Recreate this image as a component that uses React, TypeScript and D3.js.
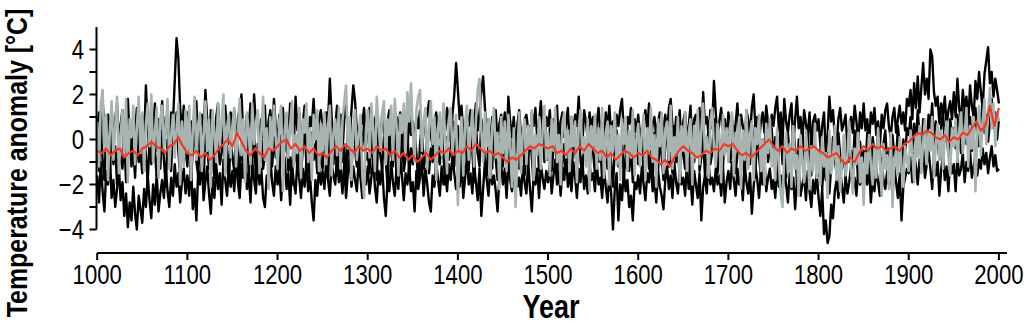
import { useMemo } from "react";
import * as d3 from "d3";

// reconstructions every 2 years (1000..2000)
const upperBlack = [
  0.4, 1.2, -0.3, 1.7, 0.6, -0.8, 1.1, 0.2, 1.5, -0.5, 0.9, 1.6, -0.2, 0.7, 1.3, -0.9, 0.5, 1.8, 0.1, -0.6, 1.0, 0.3, 1.4, -0.4, 0.8,
  1.1, -0.3, 2.4, 0.6, -0.7, 1.3, 0.2, 1.6, -0.5, 0.9, 0.4, 1.7, -0.2, 1.0, 0.5, -0.8, 1.2, 0.7, 2.6, 4.5, 3.6, 1.4, 0.3, 1.5, -0.4,
  1.2, -0.6, 0.8, 0.1, 1.4, 1.7, -0.3, 0.6, 1.1, 0.2, 2.2, 0.9, -0.5, 1.3, 0.4, -0.9, 1.0, 1.6, 0.2, -0.4, 0.8, 1.5, 0.3, -0.2, 1.2,
  0.6, 1.3, -0.5, 0.9, 1.4, 2.0, 0.3, -0.7, 1.1, 0.5, 1.6, -0.1, 2.0, 0.7, 1.2, -0.4, 0.9, 0.1, 1.5, -0.6, 0.8, 1.3, 0.2, 1.8, 0.6,
  -0.2, 1.1, 0.5, 1.4, -0.5, 0.8, 0.2, 1.6, 0.9, -0.3, 1.9, 0.4, 1.2, -0.6, 0.7, 1.5, 0.1, -0.4, 1.0, 0.6, 1.8, 0.3, -0.7, 0.9, 1.3,
  0.5, -0.2, 1.2, 0.8, 2.7, 1.0, -0.4, 0.6, 1.5, 0.2, 1.1, -0.6, 0.9, 1.6, 0.3, -0.1, 1.3, 2.4, 1.7, 0.4, -0.5, 1.0, 0.7, 1.4, -0.3,
  0.6, 1.4, 0.1, -0.6, 0.9, 1.2, 0.3, -0.2, 1.1, 0.5, -0.8, 0.8, 1.3, 0.0, 0.7, -0.4, 1.0, 0.4, 1.2, -0.3, 0.6, 0.9, -0.5, 1.1, 0.2,
  0.8, -0.2, 1.0, 0.5, 1.3, -0.6, 0.4, 0.9, 1.1, 1.7, 0.2, -0.3, 0.8, 1.2, 0.1, 0.6, -0.5, 1.0, 0.4, 1.4, 0.7, -0.1, 1.1, 2.0, 3.4,
  2.2, 0.9, 1.5, 0.3, -0.4, 1.1, 0.6, 1.3, -0.2, 0.8, 1.6, 0.4, 1.2, 2.1, 2.8, 1.4, 0.2, 0.9, -0.5, 1.0, 0.5, 1.3, -0.3, 0.7, 1.1,
  0.3, 1.2, -0.4, 1.9, 0.8, 0.1, 1.0, -0.6, 0.7, 1.3, 0.2, -0.2, 0.9, 1.1, 0.4, -0.5, 1.2, 0.6, 1.4, 0.0, 0.8, 1.7, 0.5, -0.3, 1.0,
  0.6, 1.3, -0.2, 0.9, 0.4, 1.5, -0.5, 0.8, 1.2, 0.1, 0.7, 1.4, -0.4, 1.0, 0.3, 1.1, 0.6, 1.9, 0.2, -0.3, 1.3, 0.8, 0.0, 1.2, 0.5,
  1.0, -0.4, 0.7, 1.4, 0.2, 0.9, -0.6, 1.2, 0.5, 1.5, 0.1, 0.8, -0.2, 1.1, 0.6, 1.3, 1.8, 0.4, -0.5, 1.0, 0.7, 1.4, -0.1, 0.9, 0.3,
  1.1, 0.2, -0.5, 0.9, 1.3, 0.4, 1.6, -0.3, 0.7, 1.0, 0.1, 0.8, 1.2, -0.6, 0.5, 1.1, 0.3, 1.4, 1.8, 0.6, -0.2, 1.0, 0.4, 1.3, -0.4,
  0.8, 1.2, 0.0, 0.6, 1.5, -0.3, 0.9, 1.1, 0.3, 1.4, -0.5, 2.1, 0.7, 1.0, 0.2, 1.3, 0.5, 2.6, 1.2, -0.2, 0.8, 1.4, 0.4, 0.9, -0.1,
  1.2, 0.5, 1.0, -0.4, 0.7, 1.6, 0.2, 1.1, 0.6, -0.3, 1.3, 0.9, 0.1, 1.4, 2.0, 0.5, 1.0, -0.2, 0.8, 1.2, 0.3, 1.5, 0.7, -0.1, 1.1,
  0.6, 1.4, 1.9, 0.4, 1.2, -0.2, 1.8, 0.8, 0.3, 1.1, 1.6, -0.3, 0.9, 1.9, 0.5, 1.0, -0.1, 1.3, 0.7, 0.2, 1.2, -0.4, 0.8, 1.1, 0.4,
  0.9, -0.3, 0.6, 1.2, -0.6, 0.2, 1.9, 0.8, 1.3, 0.1, -0.2, 0.9, 1.4, 0.4, 0.7, 1.1, -0.4, 0.6, 1.0, 0.3, 1.5, 0.8, -0.1, 1.2, 0.5,
  1.6, 0.4, 0.9, -0.2, 1.2, 0.7, 1.4, 0.2, 0.8, -0.3, 1.1, 0.5, 1.3, 1.6, 0.6, 0.1, 1.0, 1.4, 0.3, 0.9, 1.5, 0.7, 1.2, 0.4, 1.8,
  1.5, 2.2, 0.9, 2.5, 1.4, 2.8, 1.2, 2.3, 3.4, 2.0, 2.7, 1.8, 4.0, 3.7, 2.1, 1.5, 1.9, 0.7, 1.6, 1.1, 1.9, 0.6, 1.3, 1.7, 0.9,
  2.1, 1.0, 2.7, 1.4, 0.8, 2.2, 1.3, 1.9, 0.7, 2.4, 1.5, 1.0, 2.6, 1.8, 3.0, 2.1, 1.4, 2.9, 3.5, 4.1, 2.5, 3.0, 1.9, 2.7, 2.2,
  1.6,
];

const midBlack = [
  -0.2, -1.4, 0.6, -0.9, -1.8, 0.3, -0.6, -1.5, 0.9, -1.1, -0.3, -2.0, 0.4, -0.8, -1.3, 0.1, -1.9, -0.5, 0.7, -1.2, -0.4, -1.7, 0.2, -1.0, -0.6,
  -1.5, 0.5, -0.7, -1.9, -0.1, -1.1, 0.8, -0.6, -1.6, -0.2, -1.3, 0.4, -0.9, -2.1, 0.0, -0.8, -1.4, 0.6, -0.3, 1.2, -0.5, -1.7, 0.3, -1.0, -0.4,
  -1.2, 0.2, -1.8, -0.5, 0.7, -1.0, -1.6, 0.1, -0.7, -2.0, 0.5, -0.4, -1.3, 0.3, -0.9, -1.7, 0.6, -0.2, -1.1, -0.6, 0.9, -1.5, -0.3, -1.9, 0.0,
  -0.8, -1.4, 0.4, -0.6, -1.9, 0.2, -1.1, -0.3, 0.8, -1.5, -0.5, -1.0, 0.5, -1.8, -0.2, -0.9, 0.3, -1.3, -0.7, 0.6, -1.6, -0.4, -1.2, 0.1, -0.8,
  -0.5, -1.7, 0.2, -1.0, -0.3, 0.7, -1.4, -0.8, -2.0, 0.4, -0.6, -1.2, 0.1, -1.6, -0.4, 0.6, -1.1, -0.7, -1.9, 0.3, -0.9, -0.2, -1.5, 0.5, -1.0,
  -1.3, 0.1, -0.7, -1.8, 0.6, -0.4, -1.1, 0.2, -1.6, -0.6, 0.8, -1.0, -0.3, -1.9, 0.3, -0.8, -1.4, 0.5, -0.5, -1.2, 0.0, -1.7, -0.2, 0.7, -0.9,
  -0.6, -1.5, 0.3, -1.0, -0.2, -1.8, 0.5, -0.7, -1.3, 0.1, -0.9, -2.1, 0.4, -0.5, -1.2, 0.6, -1.6, -0.3, -1.0, 0.2, -1.4, -0.8, 0.5, -1.7, -0.4,
  -1.1, 0.3, -0.6, -1.9, -0.2, 0.6, -1.3, -0.8, 0.2, -1.5, -0.4, -1.0, 0.7, -1.7, -0.3, -1.1, 0.4, -0.7, -2.0, 0.1, -0.9, -0.5, 0.8, -1.2, 0.4,
  0.6, -1.0, -0.3, -1.7, 0.4, -0.8, -1.4, 0.2, -0.5, -1.9, 0.7, -0.6, -1.2, 0.9, 0.3, -1.0, -1.6, 0.1, -0.4, -1.3, 0.5, -0.9, -1.8, 0.0, -0.7,
  -1.2, 0.4, -0.6, -1.5, 0.1, -1.0, -1.9, -0.3, 0.5, -1.3, -0.7, 0.2, -1.6, -0.4, -1.1, 0.6, -0.8, -2.0, -0.2, 0.3, -1.4, -0.6, 0.7, -1.0, -0.3,
  -0.9, 0.5, -1.4, -0.4, 0.2, -1.7, -0.6, 0.8, -1.1, -0.2, -1.5, 0.3, -0.8, -1.9, 0.1, -0.5, -1.2, 0.6, -0.9, -1.6, 0.0, -0.7, 0.4, -1.3, -0.4,
  -0.6, -1.5, 0.3, -1.0, -0.3, -1.8, 0.5, -0.7, -1.3, 0.2, -1.0, -2.1, -0.4, 0.4, -1.2, -0.6, 0.1, -1.7, -0.8, 0.6, -1.4, -0.2, -1.9, -0.5, 0.2,
  -1.1, -0.3, 0.5, -1.6, -0.8, 0.1, -1.3, -0.5, -2.0, 0.3, -0.9, -1.4, 0.0, -0.7, -1.8, -0.2, 0.4, -1.2, -0.6, -1.5, 0.6, -1.0, -0.4, -1.7, 0.2,
  -0.7, -1.3, 0.4, -0.5, -1.8, 0.2, -1.0, -0.3, 0.7, -1.4, -0.8, 0.1, -1.6, -0.4, 0.5, -1.1, -0.6, 0.9, -0.9, -1.5, 0.0, -0.7, -1.2, 0.3, -0.5,
  0.2, -1.0, -0.4, 0.6, -1.5, -0.7, 0.1, -1.2, -0.3, -1.8, 0.4, -0.6, -1.1, 0.7, -0.2, -1.4, 0.3, -0.8, -1.6, 0.0, -0.5, 0.8, -1.0, -0.3, 0.5,
  -0.9, 0.1, -1.4, -0.5, 0.6, -1.1, -0.2, -1.7, 0.3, -0.7, -1.2, 0.5, -0.4, -1.9, 0.0, -0.8, 0.7, -1.3, -0.6, 0.2, -1.0, -1.6, 0.4, -0.3, -1.1,
  -1.6, -0.4, -2.2, -1.0, -1.8, -0.6, -2.4, -1.2, 0.1, -0.9, -1.5, 0.3, -0.7, -1.3, -0.2, -1.8, 0.2, -1.0, -0.5, -1.4, 0.4, -0.8, -1.7, -0.1, -1.1,
  -0.5, -1.3, 0.3, -0.9, -1.6, 0.1, -0.6, -1.2, 0.5, -0.8, -1.5, -0.2, 0.4, -1.1, -0.4, -1.7, 0.2, -0.7, -1.0, 0.6, -0.3, -1.4, 0.0, -0.8, 0.5,
  0.2, 1.0, -0.5, 0.7, -0.2, 1.3, 0.1, -0.8, 0.9, 0.3, -0.4, 1.1, 0.5, 1.6, -0.3, 0.8, 0.0, -0.9, 0.6, 1.2, -0.1, 0.4, -0.7, 0.9, 0.2,
  0.5, -0.4, 1.1, 0.2, -0.6, 0.8, 1.3, -0.2, 0.6, 1.0, -0.5, 0.4, 1.4, 0.1, -0.3, 0.9, 1.6, 0.3, 1.1, -0.1, 0.7, 1.8, 0.5, 1.2, 0.0,
  0.9,
];

const lowerBlack = [
  -1.6, -2.8, -1.0, -2.3, -3.2, -1.4, -2.0, -0.6, -2.6, -1.8, -3.0, -2.2, -1.2, -2.7, -1.9, -3.4, -2.4, -3.9, -2.8, -3.6, -2.1, -3.3, -4.0, -2.5, -3.1,
  -3.7, -2.2, -3.0, -1.6, -2.7, -3.5, -2.0, -2.9, -1.5, -3.2, -2.4, -1.8, -2.6, -1.2, -2.3, -3.0, -1.7, -2.5, -1.1, -2.1, -1.5, -2.8, -1.9, -1.3, -2.4,
  -1.6, -2.5, -1.0, -3.1, -2.2, -3.6, -1.4, -2.0, -0.8, -2.7, -1.9, -1.2, -2.4, -3.3, -1.7, -2.6, -1.1, -2.2, -1.5, -2.9, -0.9, -1.8, -2.5, -1.3, -2.1,
  -1.4, -2.3, -0.7, -1.9, -2.6, -1.1, -1.7, -0.5, -2.2, -1.5, -2.8, -1.0, -1.8, -2.4, -0.9, -2.0, -1.3, -2.6, -3.0, -1.6, -2.1, -0.8, -1.9, -2.5, -1.2,
  -2.0, -1.3, -2.7, -1.6, -0.8, -2.2, -1.5, -2.9, -1.1, -1.9, -2.4, -0.9, -1.7, -2.6, -1.3, -2.1, -1.0, -2.3, -1.6, -2.8, -3.6, -1.8, -2.5, -1.2, -2.0,
  -1.4, -2.2, -0.9, -1.8, -2.5, -1.1, -1.6, -2.0, -0.7, -1.9, -1.3, -2.4, -1.0, -2.6, -1.5, -0.8, -2.1, -1.2, -1.8, -2.3, -0.9, -1.7, -2.6, -1.4, -2.0,
  -1.2, -2.4, -1.7, -0.9, -2.1, -2.8, -1.4, -2.0, -1.1, -2.6, -3.4, -1.8, -2.3, -1.0, -1.9, -2.5, -1.3, -2.2, -0.8, -1.6, -2.7, -1.5, -2.0, -1.2, -2.3,
  -1.9, -3.2, -1.4, -2.2, -1.7, -0.9, -2.5, -1.3, -2.0, -2.8, -3.2, -1.6, -2.1, -1.0, -1.8, -2.5, -1.2, -2.0, -1.5, -2.3, -1.1, -1.8, -0.7, -1.5, -2.2,
  -1.4, -2.1, -1.0, -2.6, -1.7, -0.8, -2.0, -1.5, -2.4, -1.1, -1.9, -2.7, -1.3, -3.4, -2.2, -1.0, -1.8, -2.5, -1.2, -2.0, -1.6, -2.3, -3.2, -1.7, -1.1,
  -2.0, -1.3, -2.6, -1.0, -1.8, -2.3, -1.5, -0.8, -2.1, -1.7, -2.5, -1.2, -1.9, -2.4, -1.0, -2.2, -3.2, -1.6, -2.0, -1.3, -2.6, -1.1, -1.7, -2.2, -1.4,
  -1.9, -1.1, -2.4, -1.6, -0.9, -2.0, -1.4, -2.5, -1.2, -1.8, -0.7, -2.1, -1.5, -2.3, -1.0, -1.7, -2.6, -1.3, -1.9, -0.8, -2.2, -1.6, -2.4, -1.1, -1.8,
  -1.5, -2.3, -1.0, -2.0, -1.7, -2.6, -1.3, -2.1, -2.8, -1.6, -2.4, -4.0, -2.2, -1.5, -3.6, -2.0, -2.7, -1.4, -2.3, -1.8, -3.0, -2.5, -3.6, -1.9, -2.2,
  -1.6, -2.4, -1.2, -2.0, -2.7, -1.5, -1.9, -0.9, -2.3, -1.7, -2.8, -1.4, -2.1, -2.5, -3.1, -1.8, -1.2, -2.2, -1.6, -2.6, -1.0, -1.9, -2.4, -1.3, -2.0,
  -1.7, -2.5, -1.1, -2.2, -1.8, -2.9, -1.4, -2.0, -2.6, -1.5, -3.6, -2.1, -1.6, -2.4, -1.0, -2.0, -1.7, -2.3, -1.3, -2.0, -1.6, -2.5, -1.2, -2.8, -1.9,
  -1.4, -2.2, -1.0, -1.8, -2.5, -1.3, -2.0, -1.6, -2.7, -1.1, -1.9, -2.4, -1.5, -3.3, -2.1, -1.2, -1.8, -2.6, -1.4, -2.0, -1.0, -2.3, -1.7, -1.3, -2.2,
  -1.8, -2.6, -1.2, -2.1, -1.6, -2.4, -1.4, -2.0, -2.8, -1.5, -2.2, -1.7, -3.1, -1.9, -1.3, -2.5, -2.0, -1.6, -2.7, -1.4, -2.3, -3.0, -1.8, -2.4, -1.5,
  -2.6, -3.4, -2.2, -4.2, -3.6, -4.6, -4.3, -2.9, -3.5, -2.3, -1.8, -2.6, -1.4, -2.1, -2.8, -1.6, -2.4, -1.9, -1.2, -2.2, -1.7, -2.5, -1.3, -2.0, -1.6,
  -2.2, -1.5, -2.0, -1.1, -2.8, -1.7, -2.3, -1.3, -1.9, -2.5, -1.0, -1.8, -2.2, -1.4, -2.0, -1.6, -2.4, -1.2, -1.9, -2.6, -1.5, -3.6, -2.1, -1.7, -1.3,
  -1.5, -0.8, -1.9, -0.6, -1.2, -2.0, -0.9, -1.4, -0.4, -1.7, -1.1, -0.5, -1.3, -2.2, -0.8, -1.6, -1.0, -2.5, -1.3, -0.7, -1.8, -1.2, -2.3, -0.9, -1.5,
  -1.1, -2.3, -0.8, -1.6, -1.3, -0.6, -1.9, -1.0, -1.4, -0.5, -1.7, -1.2, -0.7, -1.6, -0.9, -1.3, -0.4, -1.1, -0.6, -1.5, -0.8, -0.3, -1.2, -0.7, -1.4,
  -1.3,
];

const greySeries = [
  0.8, -1.2, 1.6, 2.2, -0.5, 1.1, -1.8, 0.4, 1.7, -0.9, 0.6, 1.9, -1.5, 0.2, 1.3, -0.7, 1.8, -1.9, 0.9, 0.1, 1.5, -1.1, 0.5, 1.9, -0.6,
  1.2, -1.4, 0.7, 1.6, -0.3, 2.0, -1.0, 0.3, 1.4, -1.7, 0.9, 1.5, -0.4, 0.6, 1.8, -1.3, 0.2, 1.1, -0.8, 0.5, 1.6, -2.0, 0.8, -1.2, 1.3,
  -0.6, 1.5, -1.8, 0.4, 1.9, -0.9, 0.7, 1.2, -1.4, 0.1, 1.7, -0.5, 0.9, -2.1, 1.3, 0.3, -1.0, 1.6, -0.3, 0.8, 2.0, -1.6, 0.5, 1.1, -0.8,
  0.6, 1.4, -1.2, 0.2, 1.8, -0.7, 0.9, -1.9, 1.2, 0.4, -1.1, 1.6, -0.2, 0.7, 1.3, -1.5, 0.3, 1.9, -0.9, 0.5, -2.2, 1.0, -0.4, 1.5, 0.1,
  -1.3, 0.8, 1.5, -2.3, 0.4, 1.2, -0.8, 0.6, 1.7, -1.2, 0.2, -0.6, 1.4, -1.7, 0.9, 0.3, 1.6, -1.0, 0.5, -1.8, 1.1, 0.0, 1.3, -1.4, 0.7,
  -0.5, 1.2, -1.1, 0.6, 1.5, -1.6, 0.3, 0.9, -0.7, 1.4, -1.3, 0.8, 1.7, 2.4, -0.4, 1.0, -1.8, 0.5, 1.3, -0.9, 0.2, 1.1, -1.5, -2.6, 0.4,
  1.3, -0.8, 1.6, 0.4, -1.4, 1.9, 0.7, -0.5, 1.2, 1.7, -1.1, 0.9, 0.2, 1.5, -0.9, 1.8, 0.6, -1.6, 1.1, 0.3, 1.6, -0.6, 2.1, 0.8, 2.5,
  0.4, -1.0, 1.3, 1.9, 2.2, -0.5, 0.8, 1.4, -1.3, 0.6, 1.7, -0.2, 1.0, -1.8, 0.5, 1.2, -0.7, 1.6, 0.1, -1.5, 0.9, 1.4, -0.6, 0.3, 1.1,
  -2.9, -0.4, 1.0, -1.6, 0.7, 1.5, -0.9, 0.2, 1.3, -1.2, 0.8, 2.2, 2.7, 0.4, -1.0, 1.2, -0.3, 0.9, -1.7, 0.5, 1.4, -0.8, 0.3, -2.2, 1.0,
  -0.6, 0.8, -1.4, 1.1, -0.2, -2.1, 0.5, -3.0, -0.8, 1.2, -1.5, 0.3, 0.9, -1.1, 0.6, -0.4, 1.3, -1.8, 0.2, -0.7, 1.0, -1.3, 0.4, 1.5, -0.9,
  0.3, -1.6, 0.9, -0.5, 1.4, -1.0, 0.2, -2.0, 0.7, 1.2, -0.8, 0.4, -1.4, 1.0, -0.3, 0.8, -1.9, 0.5, 1.3, -0.6, 0.1, -1.2, 0.9, -2.3, 0.6,
  -0.4, 1.1, -1.3, 0.5, -0.9, 1.4, -1.7, 0.3, 0.8, -2.0, 0.6, -0.5, 1.2, -1.1, 0.2, -1.8, 0.9, -0.2, 1.0, -1.4, 0.4, -0.8, 1.3, -1.6, 0.0,
  0.7, -1.2, 0.3, 1.1, -1.8, 0.5, -0.6, 1.4, -1.0, 0.2, -2.1, 0.9, -0.3, 1.2, -1.5, 0.4, 0.8, -0.9, 1.5, -1.3, 0.1, -0.7, 1.0, -1.9, 0.6,
  -0.5, 1.2, -1.4, 0.3, 0.9, -2.0, 0.6, -0.8, 1.3, -1.1, 0.4, 1.6, -0.6, 0.1, -1.7, 0.8, 1.4, -0.4, -1.2, 0.7, 0.2, -1.9, 1.1, -0.7, 0.5,
  -1.0, 0.6, 1.2, -1.6, 0.3, -0.5, 1.0, -2.2, 0.4, -0.9, 1.3, -1.3, 0.2, 0.8, -1.8, 0.5, -0.2, 1.1, -1.4, 0.0, -2.0, 0.7, -0.6, 0.9, -1.2,
  -0.4, -1.8, 0.5, -1.1, -2.4, -3.0, -0.6, 0.3, -1.5, -0.2, -2.1, 0.6, -1.3, -0.7, -2.5, 0.2, -1.0, -1.9, 0.4, -0.8, -2.2, -0.3, -1.4, 0.7, -1.7,
  -0.5, -2.0, 0.1, -1.2, -0.6, -2.6, 0.4, -1.5, -0.9, 0.6, -1.8, -0.3, -2.3, -1.0, 0.2, -1.6, -0.7, 0.8, -1.3, -2.4, -0.4, -1.1, 0.3, -1.9, -0.8,
  -2.9, -0.6, -1.5, 0.2, -1.1, -2.0, -0.4, -1.7, 0.5, -0.9, -2.5, -0.2, -1.3, -0.7, -2.2, 0.3, -3.0, -1.0, -0.5, -1.6, 0.1, -1.2, -2.1, -0.3, -0.9,
  -1.4, 0.4, -0.6, -1.9, 0.2, -0.8, 0.6, -1.5, -0.1, 0.9, -1.1, 0.3, -0.5, 1.0, -1.7, -0.2, 0.7, -0.9, 0.4, -1.3, 0.1, 0.8, -0.7, -1.6, 0.5,
  -0.3, 0.9, -1.0, 0.4, 1.2, -0.6, 0.1, 1.4, -1.2, 0.6, -0.4, 1.0, -2.3, 0.3, 1.5, -0.7, 0.8, 1.8, -0.2, 1.1, 2.3, 0.5, 1.6, -0.3, 1.2,
  0.8,
];

// mean reconstruction, every 5 years (1000..2000)
const redMean = [
  -0.5, -0.6, -0.4, -0.7, -0.5, -0.4, -0.8, -0.6, -0.5, -0.7, -0.4, -0.3, -0.1, -0.3, -0.4, -0.6, -0.3, -0.2, 0.1, -0.3,
  -0.6, -0.7, -0.5, -0.8, -0.6, -0.9, -0.7, -0.4, -0.2, 0.0, -0.3, 0.3, -0.1, -0.5, -0.7, -0.4, -0.6, -0.8, -0.4, -0.5,
  -0.3, -0.1, 0.0, -0.4, -0.2, -0.5, -0.3, -0.6, -0.4, -0.7, -0.6, -0.8, -0.5, -0.3, -0.5, -0.2, -0.4, -0.6, -0.3, -0.5,
  -0.4, -0.6, -0.3, -0.5, -0.4, -0.7, -0.5, -0.8, -0.6, -0.9, -0.7, -1.0, -0.8, -0.6, -0.9, -0.7, -0.5, -0.6, -0.4, -0.7,
  -0.5, -0.6, -0.3, -0.5, -0.2, -0.4, -0.6, -0.5, -0.7, -0.6, -0.8, -1.0, -0.8, -0.9, -0.7, -0.5, -0.3, -0.4, -0.2, -0.3,
  -0.4, -0.3, -0.6, -0.5, -0.7, -0.4, -0.6, -0.3, -0.5, -0.2, -0.4, -0.6, -0.5, -0.8, -0.6, -0.9, -0.7, -0.5, -0.6, -0.8,
  -0.6, -0.7, -0.5, -0.8, -0.9, -1.1, -0.9, -1.2, -0.8, -0.5, -0.3, -0.5, -0.6, -0.8, -0.7, -0.5, -0.6, -0.4, -0.5, -0.2,
  -0.3, -0.2, -0.5, -0.7, -0.6, -0.8, -0.6, -0.4, -0.2, 0.0, -0.3, -0.5, -0.3, -0.6, -0.4, -0.5, -0.3, -0.5, -0.4, -0.3,
  -0.5, -0.6, -0.8, -0.7, -0.6, -0.9, -1.1, -0.8, -1.0, -0.6, -0.3, -0.5, -0.2, -0.4, -0.3, -0.5, -0.4, -0.3, -0.5, -0.2,
  -0.1, 0.1, 0.3, 0.2, 0.4, 0.3, 0.1, 0.0, 0.2, -0.1, 0.1, 0.0, 0.3, 0.2, 0.5, 0.8, 0.4, 0.6, 1.5, 0.6,
  1.4,
];

const xTicks = [1000, 1100, 1200, 1300, 1400, 1500, 1600, 1700, 1800, 1900, 2000];
const yTicks = [-4, -3, -2, -1, 0, 1, 2, 3, 4];
const yLabels = [-4, -2, 0, 2, 4];

const W = 1024;
const H = 328;
const FONT = "'Liberation Sans', Arial, Helvetica, sans-serif";
// the figure uses a condensed face; squeeze regular glyphs to match
const NARROW = 0.82;

export default function App() {
  const x = d3.scaleLinear().domain([1000, 2000]).range([97.2, 998.9]);
  const y = d3.scaleLinear().domain([-4, 4]).range([229.5, 49.5]);

  const paths = useMemo(() => {
    const mk = (vals: number[], start: number, step: number) =>
      d3
        .line<number>()
        .x((_, i) => x(start + i * step))
        .y((v) => y(v))(vals) as string;
    return {
      up: mk(upperBlack, 1000, 2),
      mid: mk(midBlack, 1000, 2),
      lo: mk(lowerBlack, 1000, 2),
      grey: mk(greySeries, 1000, 2),
      red: mk(redMean, 1000, 5),
    };
  }, []);

  const axX = 96.5;
  const axY = 253;

  return (
    <>
      <style>{`body{margin:0}`}</style>
      <svg width={W} height={H} style={{ display: "block", background: "#fff" }}>
        <g fill="none" strokeLinejoin="round">
          <path d={paths.up} stroke="#000" strokeWidth={2.4} />
          <path d={paths.mid} stroke="#000" strokeWidth={2.4} />
          <path d={paths.lo} stroke="#000" strokeWidth={2.4} />
          <path d={paths.grey} stroke="#a8b4b2" strokeWidth={2.6} />
          <path d={paths.red} stroke="#f03a24" strokeWidth={2.2} />
        </g>

        {/* y axis */}
        <line x1={axX} x2={axX} y1={y(5)} y2={y(-4)} stroke="#000" strokeWidth={2} />
        {yTicks.map((t) => (
          <line key={t} x1={axX - 7} x2={axX} y1={y(t)} y2={y(t)} stroke="#000" strokeWidth={2} />
        ))}
        {yLabels.map((t) => (
          <text
            key={t}
            transform={`translate(84,${y(t)}) scale(${NARROW},1)`}
            dy="0.36em"
            textAnchor="end"
            fontFamily={FONT}
            fontSize={27}
          >
            {t < 0 ? "\u2212" + Math.abs(t) : t}
          </text>
        ))}
        <text
          transform={`translate(27,163) rotate(-90) scale(0.86,1)`}
          textAnchor="middle"
          fontFamily={FONT}
          fontWeight="bold"
          fontSize={29}
        >
          Temperature anomaly [°C]
        </text>

        {/* x axis */}
        <line x1={x(1000)} x2={x(2009)} y1={axY} y2={axY} stroke="#000" strokeWidth={2} />
        {xTicks.map((t) => (
          <g key={t}>
            <line x1={x(t)} x2={x(t)} y1={axY} y2={axY + 7} stroke="#000" strokeWidth={2} />
            <text
              transform={`translate(${x(t)},284) scale(${NARROW},1)`}
              textAnchor="middle"
              fontFamily={FONT}
              fontSize={27}
            >
              {t}
            </text>
          </g>
        ))}
        <text
          transform={`translate(551,318) scale(${NARROW},1)`}
          textAnchor="middle"
          fontFamily={FONT}
          fontWeight="bold"
          fontSize={33}
        >
          Year
        </text>
      </svg>
    </>
  );
}
